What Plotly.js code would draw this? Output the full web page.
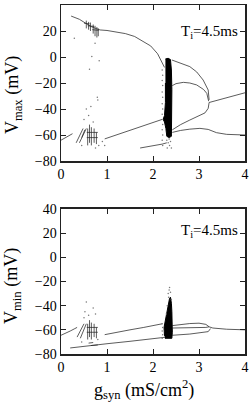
<!DOCTYPE html>
<html>
<head>
<meta charset="utf-8">
<script src="https://cdn.plot.ly/plotly-3.0.1.min.js"></script>
<style>html,body{margin:0;padding:0;background:#fff}#chart{width:249px;height:407px}</style>
</head>
<body>
<div id="chart"></div>
<script>
// ---------- V_max panel (top) ----------
var maxUpperX = [0.22, 0.3, 0.4, 0.48, 0.55, 0.65, 0.75, 0.85, 1.0, 1.2, 1.4, 1.6, 1.8, 1.95, 2.1, 2.2, 2.25];
var maxUpperY = [31.5, 30.5, 29, 27.2, 25.5, 23.5, 22, 20.8, 20.4, 19.3, 18, 15.8, 12, 8.5, 2.5, -5, -8];
var maxClutterUpX = [0.55,0.55,null,0.5,0.62,null,0.6,0.6,null,0.64,0.64,null,0.58,0.72,null,0.7,0.7,null,0.74,0.74,null,0.68,0.82,null,0.78,0.78,null,0.81,0.81];
var maxClutterUpY = [22,28,null,26,25.5,null,21,27,null,20,26.5,null,24,23.5,null,18,25,null,16,24,null,21,20.5,null,15,23,null,16,22];
var maxRightAX = [2.41, 2.6, 2.8, 2.95, 3.09, 3.2, 3.22];
var maxRightAY = [-2.3, -4.5, -7.4, -11.5, -17.7, -25.4, -33];
var maxRightBX = [2.42, 2.5, 2.66, 2.8, 2.95, 3.1, 3.17, 3.21];
var maxRightBY = [-22, -20.5, -19.5, -20, -21.5, -25, -28, -34];
var maxRightCX = [3.22, 3.5, 3.75, 4.0];
var maxRightCY = [-35, -32.5, -30, -27.5];
var maxRightDX = [2.42, 2.6, 2.8, 3.0, 3.13, 3.2, 3.22];
var maxRightDY = [-56, -52, -48.5, -45.5, -43, -39.5, -35];
var maxRightEX = [2.42, 2.6, 2.8, 3.02, 3.2, 3.38, 3.6, 3.8, 4.0];
var maxRightEY = [-58, -56.5, -55.5, -54.9, -55.7, -58.2, -59.5, -60, -60];
var maxLowLeftX = [0, 0.1, 0.2, 0.25, null, 0.33, 0.48, null, 0.4, 0.55, null, 0.45, 0.52, null, 0.58,0.58,null,0.62,0.62,null,0.66,0.66,null,0.72,0.72,null,0.77,0.77,null,0.56,0.8,null,0.56,0.8];
var maxLowLeftY = [-64, -62, -60, -59, null, -66, -55, null, -66, -55, null, -62, -56, null, -68,-55,null,-66,-52,null,-68,-54,null,-66,-55,null,-67,-58,null,-58,-58,null,-62,-62];
var maxMidX = [0.95, 1.2, 1.5, 1.8, 2.0, 2.2];
var maxMidY = [-63, -60, -56.5, -53, -50.5, -48];
var maxBottomX = [1.72, 2.0, 2.2, 2.3];
var maxBottomY = [-70, -68.5, -67, -66];
var maxBandX = [2.27, 2.33, 2.38, 2.40, 2.41, 2.41, 2.41, 2.40, 2.35, 2.30, 2.28, 2.25, 2.22, 2.25, 2.27, 2.27];
var maxBandY = [-1.5, -1, -2, -10, -25, -40, -55, -61, -62, -61, -55, -50, -48, -45, -35, -20];
var maxDotsX = [2.2,2.21,2.2,2.21,2.2,2.21,2.2,2.21,2.2,2.21,2.2,2.21,2.2,2.21, 2.3,2.33,2.36,2.38,2.4,2.31,2.35, 0.29,0.67,0.62,0.83,0.74,0.79,0.8,0.55,0.6,0.5,0.7,0.45,0.75,0.82,0.65,0.9,0.95];
var maxDotsY = [-10,-14,-18,-22,-27,-31,-36,-40,-44,-52,-56,-60,-64,-68, -64,-66,-68,-65,-70,-70,-63, 14.4,0.3,-9.5,-2.8,10.5,-31,-33,-40,-45,-48,-50,-68,-70,-68,-38,-65,-68];

// ---------- V_min panel (bottom) ----------
var minLeftX = [0, 0.1, 0.2, 0.3, 0.35, null, 0.35, 0.5, null, 0.42, 0.55, null, 0.58,0.58,null,0.62,0.62,null,0.66,0.66,null,0.72,0.72,null,0.77,0.77,null,0.56,0.8,null,0.56,0.8];
var minLeftY = [-64.5, -63, -61, -59, -58, null, -66, -55, null, -67, -55, null, -68,-55,null,-66,-52,null,-68,-54,null,-66,-55,null,-67,-58,null,-58,-58,null,-62,-62];
var minMidX = [0.95, 1.2, 1.5, 1.8, 2.0, 2.2];
var minMidY = [-64, -62, -60, -58, -56.5, -55];
var minBottomX = [0.2, 0.5, 0.8, 1.0, 1.5, 2.0, 2.3, null, 0.6, 0.7, null, 0.65, 0.8];
var minBottomY = [-75, -73.5, -72, -71.5, -69.5, -67.5, -66, null, -71, -70.5, null, -73, -72.5];
var minLoopUpX = [2.42, 2.6, 2.8, 3.0, 3.15, 3.22];
var minLoopUpY = [-56.5, -55.5, -54.8, -54.5, -55.5, -57.5];
var minLoopLowX = [2.42, 2.7, 3.0, 3.15, 3.22];
var minLoopLowY = [-58.5, -58.5, -58.5, -58, -57.5];
var minTailX = [3.22, 3.3, 3.6, 4.0];
var minTailY = [-57.5, -58.5, -59.5, -60];
var minLowRightX = [2.42, 2.8, 3.2, 3.25];
var minLowRightY = [-64.5, -63.5, -61.5, -59];
var minBandX = [2.26, 2.41, 2.42, 2.42, 2.41, 2.40, 2.38, 2.36, 2.33, 2.30, 2.27, 2.24, 2.25];
var minBandY = [-67, -67, -62, -55, -45, -38, -33, -34, -40, -47, -54, -58, -65];
var minDotsX = [2.2,2.21,2.2,2.21,2.2, 2.33,2.35,2.36,2.38,2.34,2.40,2.31,2.29, 0.55,0.52,0.5,0.6,0.7,0.75,0.45,0.8];
var minDotsY = [-55,-58,-61,-64,-67, -30,-27,-25,-29,-33,-35,-40,-47, -37,-45,-50,-48,-42,-47,-70,-68];

var yTicks = [-80, -60, -40, -20, 0, 20, 40];
var xTicks = [0, 1, 2, 3, 4];

var LC = '#262626';
function line(x, y, ax) {
  return {x: x, y: y, xaxis: ax[0], yaxis: ax[1], mode: 'lines', type: 'scatter',
          line: {color: LC, width: 0.75}, connectgaps: false, hoverinfo: 'skip', showlegend: false};
}
function band(x, y, ax) {
  return {x: x, y: y, xaxis: ax[0], yaxis: ax[1], mode: 'lines', type: 'scatter', fill: 'toself',
          fillcolor: '#000', line: {color: '#000', width: 1}, hoverinfo: 'skip', showlegend: false};
}
function dots(x, y, ax) {
  return {x: x, y: y, xaxis: ax[0], yaxis: ax[1], mode: 'markers', type: 'scatter',
          marker: {color: '#777', size: 1.5}, hoverinfo: 'skip', showlegend: false};
}
var T = ['x', 'y'], B = ['x2', 'y2'];
var data = [
  line(maxUpperX, maxUpperY, T), line(maxClutterUpX, maxClutterUpY, T),
  line(maxRightAX, maxRightAY, T), line(maxRightBX, maxRightBY, T), line(maxRightCX, maxRightCY, T),
  line(maxRightDX, maxRightDY, T), line(maxRightEX, maxRightEY, T),
  line(maxLowLeftX, maxLowLeftY, T), line(maxMidX, maxMidY, T), line(maxBottomX, maxBottomY, T),
  band(maxBandX, maxBandY, T), dots(maxDotsX, maxDotsY, T),
  line(minLeftX, minLeftY, B), line(minMidX, minMidY, B), line(minBottomX, minBottomY, B),
  line(minLoopUpX, minLoopUpY, B), line(minLoopLowX, minLoopLowY, B), line(minTailX, minTailY, B),
  line(minLowRightX, minLowRightY, B), band(minBandX, minBandY, B), dots(minDotsX, minDotsY, B)
];

var FONT = 'Liberation Serif, Times New Roman, serif';
function xa(anchor) {
  return {anchor: anchor, domain: [0, 1], range: [0, 4], tickvals: xTicks, ticks: 'inside', ticklen: 5,
          showline: true, mirror: 'ticks', linecolor: '#222', linewidth: 1.5, tickcolor: '#222',
          showgrid: false, zeroline: false, tickfont: {family: FONT, size: 14, color: '#000'}};
}
function ya(anchor, dom) {
  return {anchor: anchor, domain: dom, range: [-80, 40], tickvals: yTicks, ticks: 'inside', ticklen: 5,
          showline: true, mirror: 'ticks', linecolor: '#222', linewidth: 1.5, tickcolor: '#222',
          showgrid: false, zeroline: false, tickfont: {family: FONT, size: 14, color: '#000'}};
}
var layout = {
  width: 249, height: 407,
  margin: {l: 61, r: 4, t: 5, b: 53},
  paper_bgcolor: '#fff', plot_bgcolor: '#fff',
  font: {family: FONT, color: '#000'},
  xaxis: xa('y'), yaxis: ya('x', [0.553, 1]),
  xaxis2: xa('y2'), yaxis2: ya('x2', [0, 0.4155]),
  annotations: [
    {text: 'T<sub>i</sub>=4.5ms', xref: 'x', yref: 'y', x: 3.89, y: 19.2, xanchor: 'right', yanchor: 'middle',
     showarrow: false, font: {family: FONT, size: 15, color: '#000'}},
    {text: 'T<sub>i</sub>=4.5ms', xref: 'x2', yref: 'y2', x: 3.89, y: 21.7, xanchor: 'right', yanchor: 'middle',
     showarrow: false, font: {family: FONT, size: 15, color: '#000'}},
    {text: 'V<sub>max</sub> (mV)', xref: 'paper', yref: 'paper', x: 0, y: 0.742, xshift: -48, textangle: -90,
     xanchor: 'center', yanchor: 'middle', showarrow: false, font: {family: FONT, size: 18, color: '#000'}},
    {text: 'V<sub>min</sub> (mV)', xref: 'paper', yref: 'paper', x: 0, y: 0.195, xshift: -48, textangle: -90,
     xanchor: 'center', yanchor: 'middle', showarrow: false, font: {family: FONT, size: 18, color: '#000'}},
    {text: 'g<sub>syn</sub> (mS/cm<sup>2</sup>)', xref: 'paper', yref: 'paper', x: 0.451, y: -0.103,
     xanchor: 'center', yanchor: 'middle', showarrow: false, font: {family: FONT, size: 18, color: '#000'}}
  ]
};
Plotly.newPlot('chart', data, layout, {staticPlot: true, displayModeBar: false});
</script>
</body>
</html>
